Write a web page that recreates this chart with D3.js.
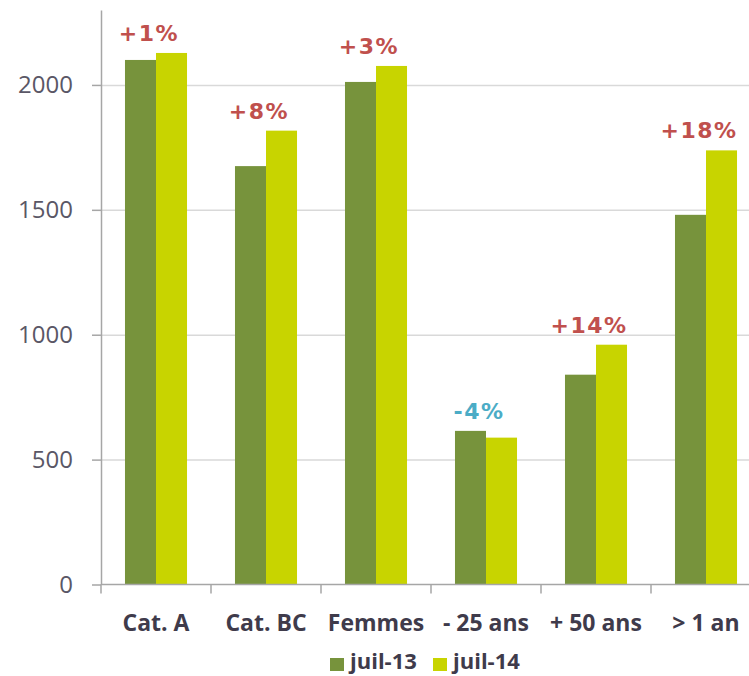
<!DOCTYPE html>
<html>
<head>
<meta charset="utf-8">
<script src="https://d3js.org/d3.v7.min.js"></script>
<style>
    body { margin: 0; background: #fff; }
    svg { display: block; }
</style>
</head>
<body>
<svg width="749" height="676"></svg>
<script>
    // data
    var categories = ["Cat. A", "Cat. BC", "Femmes", "- 25 ans", "+ 50 ans", "> 1 an"];
    var series = ["juil-13", "juil-14"];
    var juil13 = [2100, 1675, 2012, 615, 840, 1480];
    var juil14 = [2128, 1817, 2076, 588, 960, 1738];
    var changes = ["+1%", "+8%", "+3%", "-4%", "+14%", "+18%"];
    var yTicks = [0, 500, 1000, 1500, 2000];

    var colors = ["#77933c", "#c8d400"];
    var RED = "#c0504d", BLUE = "#4bacc6";

    var svg = d3.select("svg");
    var W = 749;

    var x = d3.scaleBand().domain(categories).range([101, 761]);
    var x1 = d3.scaleBand().domain(series)
        .range([x.bandwidth() * 0.218, x.bandwidth() * 0.782]);
    var y = d3.scaleLinear().domain([0, 2300]).range([584.5, 10]);

    // gridlines
    svg.append("g")
        .attr("transform", "translate(101,0)")
        .call(d3.axisLeft(y).tickValues(yTicks.slice(1)).tickSize(-(W - 101)).tickFormat(""))
        .call(function(g) { g.select(".domain").remove(); })
        .selectAll("line")
        .attr("stroke", "#d9d9d9")
        .attr("stroke-width", 1.5);

    // bars
    var rows = categories.map(function(c, i) {
        return { cat: c, vals: [juil13[i], juil14[i]], change: changes[i] };
    });

    var grp = svg.append("g").selectAll("g")
        .data(rows)
        .enter().append("g")
        .attr("transform", function(d) { return "translate(" + x(d.cat) + ",0)"; });

    grp.selectAll("rect")
        .data(function(d) { return d.vals.map(function(v, j) { return { s: series[j], v: v, j: j }; }); })
        .enter().append("rect")
        .attr("x", function(d) { return x1(d.s); })
        .attr("width", x1.bandwidth())
        .attr("y", function(d) { return y(d.v); })
        .attr("height", function(d) { return y(0) - y(d.v); })
        .attr("fill", function(d) { return colors[d.j]; });

    // change labels
    grp.append("text")
        .attr("x", x.bandwidth() / 2 - 7)
        .attr("y", function(d) { return y(d3.max(d.vals)) - 12; })
        .attr("text-anchor", "middle")
        .attr("font-family", "DejaVu Sans")
        .attr("font-weight", "bold")
        .attr("font-size", 22)
        .attr("letter-spacing", 1.5)
        .attr("fill", function(d) { return d.change[0] === "-" ? BLUE : RED; })
        .text(function(d) { return d.change; });

    // y axis
    var yAxis = svg.append("g")
        .attr("transform", "translate(101,0)")
        .call(d3.axisLeft(y).tickValues(yTicks).tickFormat(d3.format("d"))
            .tickSize(9).tickPadding(19).tickSizeOuter(0));
    yAxis.select(".domain").attr("stroke", "#a6a6a6").attr("stroke-width", 1.5);
    yAxis.selectAll(".tick line").attr("stroke", "#a6a6a6").attr("stroke-width", 1.5);
    yAxis.selectAll(".tick text")
        .attr("font-family", "Open Sans")
        .attr("font-weight", 400)
        .attr("font-size", 24)
        .attr("fill", "#5a5766");

    // x axis baseline + boundary ticks
    var xa = svg.append("g");
    xa.append("line")
        .attr("x1", 101).attr("x2", W)
        .attr("y1", y(0)).attr("y2", y(0))
        .attr("stroke", "#a6a6a6").attr("stroke-width", 1.5);
    xa.selectAll("line.tk")
        .data(categories.map(function(c) { return x(c); }).concat([x.range()[1]]))
        .enter().append("line")
        .attr("class", "tk")
        .attr("x1", function(d) { return d; }).attr("x2", function(d) { return d; })
        .attr("y1", y(0)).attr("y2", y(0) + 9)
        .attr("stroke", "#a6a6a6").attr("stroke-width", 1.5);
    xa.selectAll("text")
        .data(categories)
        .enter().append("text")
        .attr("x", function(d) { return x(d) + x.bandwidth() / 2; })
        .attr("y", 631)
        .attr("text-anchor", "middle")
        .attr("font-family", "Open Sans")
        .attr("font-weight", 700)
        .attr("font-size", 23)
        .attr("fill", "#3f3b4b")
        .text(function(d) { return d; });

    // legend
    var leg = svg.append("g").attr("transform", "translate(330,658)");
    var items = leg.selectAll("g")
        .data(series)
        .enter().append("g")
        .attr("transform", function(d, i) { return "translate(" + (i * 103) + ",0)"; });
    items.append("rect")
        .attr("width", 14).attr("height", 13)
        .attr("fill", function(d, i) { return colors[i]; });
    items.append("text")
        .attr("x", 20)
        .attr("y", 11)
        .attr("font-family", "Open Sans")
        .attr("font-weight", 700)
        .attr("font-size", 22)
        .attr("fill", "#3f3b4b")
        .text(function(d) { return d; });
</script>
</body>
</html>
